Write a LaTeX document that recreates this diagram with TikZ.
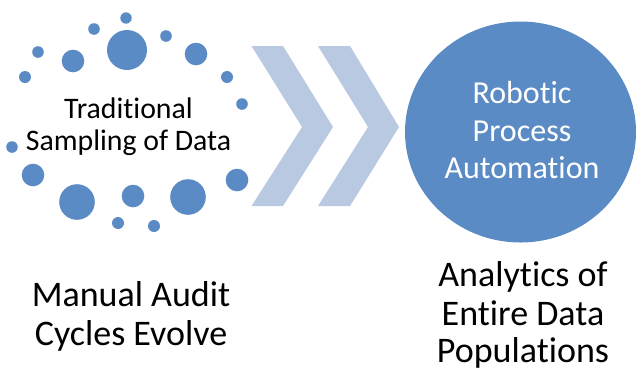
\documentclass[tikz,border=0pt]{standalone}
\usepackage{fontspec}
\usetikzlibrary{shapes.geometric}
\setmainfont{Carlito}[Ligatures={NoCommon}]
\definecolor{dotblue}{HTML}{5B8BC5}
\definecolor{chev}{HTML}{B9C9E2}
\begin{document}
\begin{tikzpicture}[x=1pt,y=-1pt,
  dot/.style={fill=dotblue,draw=none},
  chevron/.style={fill=chev,draw=none},
  lbl/.style={anchor=base,inner sep=0pt,text=black},
  small/.style={font=\fontsize{29.8}{32}\selectfont},
  big/.style={font=\fontsize{36}{38}\selectfont},
  inner/.style={font=\fontsize{32}{37}\selectfont,text=white}]
\useasboundingbox[fill=white] (0,0) rectangle (636,370);
% dots
\foreach \x/\y/\r in {126/18/5.7, 94/29/5.8, 166/36/5.8, 38/52/5.8, 127/50/20,
  73/61/11.3, 196/54/11.3, 25/77/6, 227/77/6, 242/104/5.8, 12/147/5.8,
  33/175/11.3, 237/180/11.3, 77/202/17.8, 133/196/11.3, 188/197/17.8,
  118/223/6, 154/226/6}
  \fill[dot] (\x,\y) circle[radius=\r];
% chevrons
\fill[chevron] (251.5,46) -- (283,46) -- (333,127) -- (283,206) -- (251.5,206) -- (302,127) -- cycle;
\fill[chevron] (318,46) -- (350,46) -- (399,127) -- (350,206) -- (318,206) -- (368,127) -- cycle;
% circle
\node[ellipse,fill=dotblue,draw=none,minimum width=231pt,minimum height=221pt,inner sep=0pt] (rpa) at (520.5,132) {};
% texts
\node[lbl,small] (t1) at (128.5,118) {Traditional};
\node[lbl,small] (t2) at (128.5,150) {Sampling of Data};
\node[lbl,inner] (r1) at (522,103.3) {Robotic};
\node[lbl,inner] (r2) at (522,141.7) {Process};
\node[lbl,inner] (r3) at (522,178.3) {Automation};
\node[lbl,big] (m1) at (131,306.7) {Manual Audit};
\node[lbl,big] (m2) at (131,345) {Cycles Evolve};
\node[lbl,big] (a1) at (523,286.7) {Analytics of};
\node[lbl,big] (a2) at (523,325) {Entire Data};
\node[lbl,big] (a3) at (523,362) {Populations};
\end{tikzpicture}
\end{document}
